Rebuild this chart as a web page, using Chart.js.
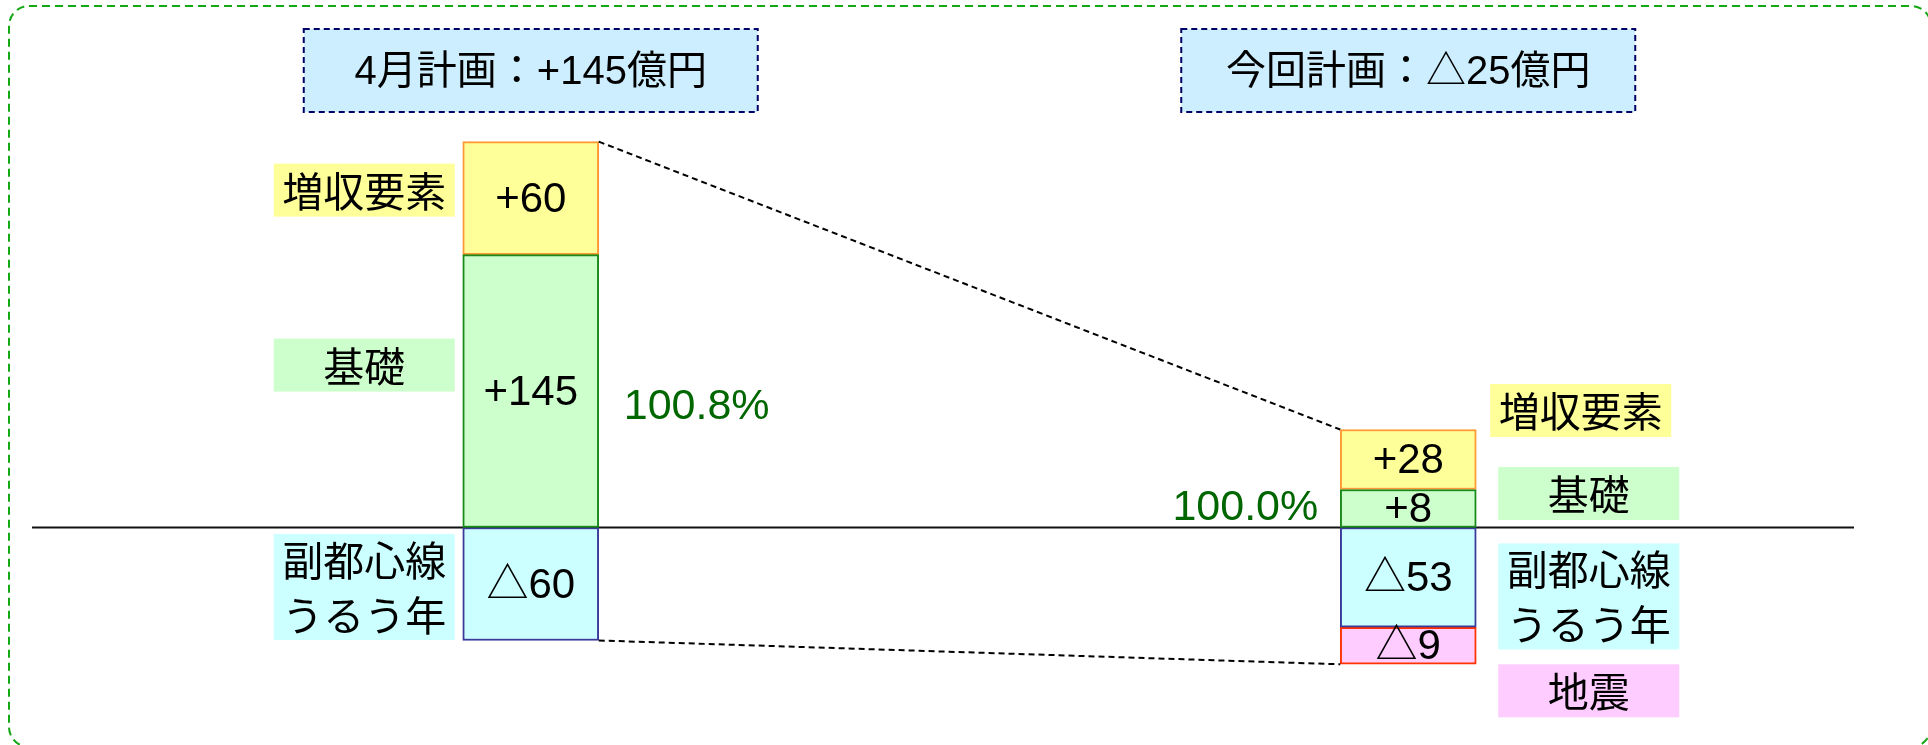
<!DOCTYPE html>
<html lang="ja">
<head>
<meta charset="utf-8">
<title>営業利益 計画比較</title>
<script src="https://cdn.jsdelivr.net/npm/chart.js@4/dist/chart.umd.min.js"></script>
<style>
  html, body { margin: 0; padding: 0; background: #ffffff; }
  #wrap { width: 1928px; height: 745px; position: relative; }
</style>
</head>
<body>
<div id="wrap"><canvas id="c" width="1928" height="745"></canvas></div>
<script>
// ---- data (億円) ----
const plans = ['4月計画', '今回計画'];
const planTotals = [145, -25];
const ratioLabels = ['100.8%', '100.0%'];
const factorNames = ['基礎', '増収要素', '副都心線\nうるう年', '地震'];
const baseValues = [145, 8];
const growthValues = [60, 28];
const subwayLeapValues = [-60, -53];
const quakeValues = [null, -9];

// ---- styles ----
const FONT_NUM = '"Liberation Sans", "Noto Sans CJK JP", sans-serif';
const FONT_JP = '"Noto Sans CJK JP", "Liberation Sans", sans-serif';
const factorStyles = [
  { fill: '#ccffcc', border: '#1a8a1a', minBar: 38 },
  { fill: '#ffff99', border: '#ff9933', minBar: 60 },
  { fill: '#ccffff', border: '#3a3a9a', minBar: 0 },
  { fill: '#ffccff', border: '#ff3300', minBar: 37 }
];
// tag boxes beside each bar: [category][dataset] -> vertical nudge from segment centre
const tagLayout = [
  [{ dy: -26 }, { dy: -8 }, { dy: 3 }, null],
  [{ dy: -15 }, { dy: -49, dx: -8 }, { dy: 19 }, { dy: 45 }]
];
const ratioLayout = [{ side: 'right', dy: 16 }, { side: 'left', dy: 0 }];

const fmt = v => (v < 0 ? '△' + Math.abs(v) : '+' + v);

const seriesValues = [baseValues, growthValues, subwayLeapValues, quakeValues];
const datasets = seriesValues.map((vals, i) => ({
  label: factorNames[i].replace('\n', ''),
  data: vals,
  backgroundColor: factorStyles[i].fill,
  borderColor: factorStyles[i].border,
  borderWidth: 2,
  borderSkipped: false,
  minBarLength: factorStyles[i].minBar,
  barThickness: 136
}));

function barBox(el) {
  const p = el.getProps(['x', 'y', 'base', 'width'], true);
  return {
    left: p.x - p.width / 2, right: p.x + p.width / 2,
    top: Math.min(p.y, p.base), bottom: Math.max(p.y, p.base),
    cx: p.x, cy: (p.y + p.base) / 2
  };
}

const decorPlugin = {
  id: 'decor',
  beforeDraw(chart) {
    const ctx = chart.ctx;
    ctx.save();
    // outer dashed frame
    ctx.strokeStyle = '#14a814';
    ctx.lineWidth = 2;
    ctx.setLineDash([8, 5]);
    ctx.beginPath();
    ctx.roundRect(9, 6, 1922, 741, 20);
    ctx.stroke();
    ctx.restore();
  },
  beforeDatasetsDraw(chart) {
    const ctx = chart.ctx;
    const y0 = chart.scales.y.getPixelForValue(0);
    ctx.save();
    ctx.strokeStyle = '#111111';
    ctx.lineWidth = 2;
    ctx.beginPath();
    ctx.moveTo(32, y0);
    ctx.lineTo(1854, y0);
    ctx.stroke();
    ctx.restore();
  },
  afterDatasetsDraw(chart) {
    const ctx = chart.ctx;
    const metas = chart.data.datasets.map((d, i) => chart.getDatasetMeta(i));

    // stack extents per category
    const ext = plans.map((_, ci) => {
      let top = Infinity, bottom = -Infinity, left = 0, right = 0, cx = 0;
      metas.forEach((m, di) => {
        if (seriesValues[di][ci] == null) return;
        const b = barBox(m.data[ci]);
        top = Math.min(top, b.top); bottom = Math.max(bottom, b.bottom);
        left = b.left; right = b.right; cx = b.cx;
      });
      return { top, bottom, left, right, cx };
    });

    ctx.save();
    // dashed connectors between the two bars
    ctx.strokeStyle = '#000000';
    ctx.lineWidth = 2;
    ctx.setLineDash([6, 4]);
    ctx.beginPath();
    ctx.moveTo(ext[0].right, ext[0].top);
    ctx.lineTo(ext[1].left, ext[1].top);
    ctx.moveTo(ext[0].right, ext[0].bottom);
    ctx.lineTo(ext[1].left, ext[1].bottom);
    ctx.stroke();
    ctx.setLineDash([]);

    // values inside segments
    ctx.fillStyle = '#000000';
    ctx.font = '42px ' + FONT_NUM;
    ctx.textAlign = 'center';
    ctx.textBaseline = 'middle';
    metas.forEach((m, di) => {
      plans.forEach((_, ci) => {
        const v = seriesValues[di][ci];
        if (v == null) return;
        const b = barBox(m.data[ci]);
        ctx.fillText(fmt(v), b.cx, b.cy + 2);
      });
    });

    // factor tags beside bars
    plans.forEach((_, ci) => {
      metas.forEach((m, di) => {
        const lay = tagLayout[ci][di];
        if (!lay || seriesValues[di][ci] == null) return;
        const b = barBox(m.data[ci]);
        const lines = factorNames[di].split('\n');
        const w = 181, h = 53 * lines.length;
        const x = (ci === 0 ? b.left - 8 - w : b.right + 22) + (lay.dx || 0);
        const yc = b.cy + lay.dy;
        ctx.fillStyle = factorStyles[di].fill;
        ctx.fillRect(x, yc - h / 2, w, h);
        ctx.fillStyle = '#000000';
        ctx.font = '41px ' + FONT_JP;
        lines.forEach((t, li) => {
          ctx.fillText(t, x + w / 2, yc + (li - (lines.length - 1) / 2) * 55 + 1);
        });
      });
    });

    // ratio labels next to the 基礎 segment
    ctx.fillStyle = '#006600';
    ctx.font = '43px ' + FONT_NUM;
    plans.forEach((_, ci) => {
      const b = barBox(metas[0].data[ci]);
      const lay = ratioLayout[ci];
      if (lay.side === 'right') {
        ctx.textAlign = 'left';
        ctx.fillText(ratioLabels[ci], b.right + 25, b.cy + lay.dy);
      } else {
        ctx.textAlign = 'right';
        ctx.fillText(ratioLabels[ci], b.left - 22, b.cy + lay.dy);
      }
    });

    // plan headers
    ctx.textAlign = 'center';
    plans.forEach((name, ci) => {
      const cx = ext[ci].cx, w = 454, top = 29, h = 83;
      ctx.fillStyle = '#cceeff';
      ctx.fillRect(cx - w / 2, top, w, h);
      ctx.strokeStyle = '#000066';
      ctx.lineWidth = 2;
      ctx.setLineDash([6, 4]);
      ctx.strokeRect(cx - w / 2, top, w, h);
      ctx.setLineDash([]);
      ctx.fillStyle = '#000000';
      ctx.font = '40px ' + FONT_NUM;
      ctx.fillText(name + '：' + fmt(planTotals[ci]) + '億円', cx, top + h / 2 + 2);
    });
    ctx.restore();
  }
};

new Chart(document.getElementById('c'), {
  type: 'bar',
  data: { labels: plans, datasets },
  options: {
    responsive: false,
    devicePixelRatio: 1,
    animation: false,
    layout: { padding: { left: 92, right: 81, top: 104, bottom: 1 } },
    plugins: { legend: { display: false }, tooltip: { enabled: false } },
    scales: {
      x: { type: 'category', stacked: true, display: false, offset: true },
      y: { stacked: true, display: false, min: -115, max: 225 }
    }
  },
  plugins: [decorPlugin]
});
</script>
</body>
</html>
